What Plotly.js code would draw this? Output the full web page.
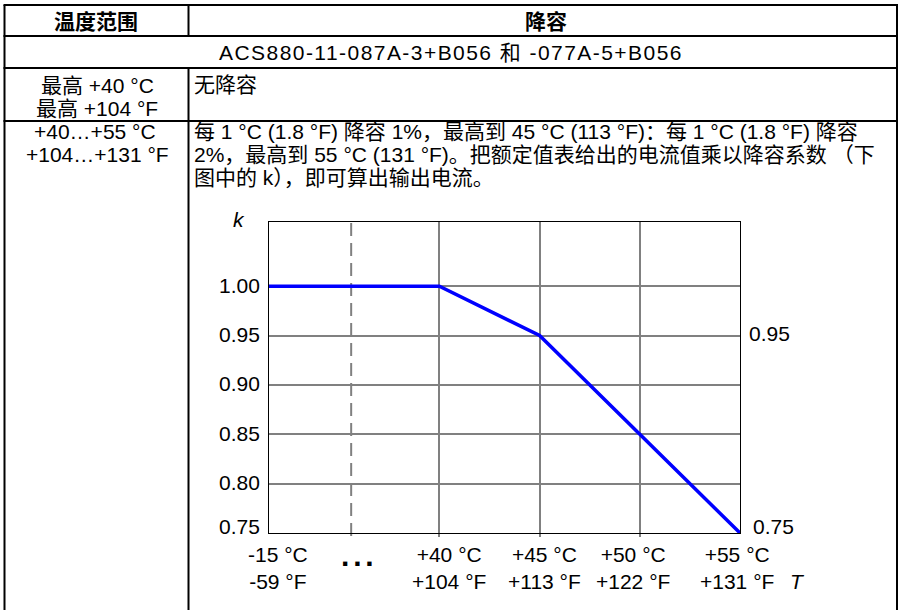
<!DOCTYPE html>
<html>
<head>
<meta charset="utf-8">
<script src="https://cdn.plot.ly/plotly-3.0.1.min.js"></script>
<style>html,body{margin:0;padding:0;background:#fff;overflow:hidden}</style>
</head>
<body>
<div id="chart" style="width:902px;height:610px"></div>
<script>
// ---------------- data ----------------
const tempC = [-15, 40, 45, 55];            // temperature points (°C)
const kValues = [1.00, 1.00, 0.95, 0.75];   // derating factor k
const xTickC = [-15, 40, 45, 50, 55];
const xTickLabelC = ['-15 °C', '+40 °C', '+45 °C', '+50 °C', '+55 °C'];
const xTickLabelF = ['-59 °F', '+104 °F', '+113 °F', '+122 °F', '+131 °F'];
const gridC = [40, 45, 50];
const yTickVals = [0.75, 0.80, 0.85, 0.90, 0.95, 1.00];
const yTickText = ['0.75', '0.80', '0.85', '0.90', '0.95', '1.00'];
const rightTickVals = [0.95, 0.75];
const rightTickText = ['0.95', '0.75'];

const headerCells = ['温度范围', '降容'];
const modelRow = 'ACS880-11-087A-3+B056 和 -077A-5+B056';
const row1Range = ['最高 +40 °C', '最高 +104 °F'];
const row1Text = '无降容';
const row2Range = ['+40…+55 °C', '+104…+131 °F'];
const row2Text = [
  '每 1 °C (1.8 °F) 降容 1%，最高到 45 °C (113 °F)：每 1 °C (1.8 °F) 降容',
  '2%，最高到 55 °C (131 °F)。把额定值表给出的电流值乘以降容系数 （下',
  '图中的 k），即可算出输出电流。'
];
const yAxisName = 'k';
const xAxisName = 'T';

// ---------------- layout helpers (styles/positions) ----------------
const W = 902, H = 610;
const px = x => x / W;
const py = y => 1 - y / H;
const FONT = 'Liberation Sans, Arial, Noto Sans CJK SC, sans-serif';
const FS = 21;
const BREAK_POS = 31.5;   // axis position where the broken (low temperature) part is shown
const DASH_POS = 35.6;    // axis break marker
const axisPos = t => (t < 40 ? BREAK_POS : t);
const LABEL_XSHIFT = [9, 10, 5, -7, -3];

const ann = [];
function txt(text, x, y, opts) {
  ann.push(Object.assign({
    text: text, x: px(x), y: py(y), xref: 'paper', yref: 'paper',
    showarrow: false, xanchor: 'center', yanchor: 'middle',
    font: {family: FONT, size: FS, color: '#000'}
  }, opts || {}));
}

// table texts
txt('<b>' + headerCells[0] + '</b>', 96, 21);
txt('<b>' + headerCells[1] + '</b>', 546, 21);
txt('<span style="letter-spacing:1.45px">' + modelRow + '</span>', 451, 52);
txt(row1Range[0], 97, 85);
txt(row1Range[1], 97, 108);
txt(row1Text, 192, 84, {xanchor: 'left'});
txt(row2Range[0], 95, 132);
txt(row2Range[1], 97, 155);
row2Text.forEach((t, i) => txt(t, 192, 132 + i * 23, {xanchor: 'left'}));

// chart texts
txt('<i>' + yAxisName + '</i>', 239, 220);
txt('<i>' + xAxisName + '</i>', 797, 581);
txt('<b><span style="letter-spacing:3.8px">...</span></b>', 359, 555, {font: {family: FONT, size: 30, color: '#000'}});

yTickVals.forEach((v, i) => ann.push({
  text: yTickText[i], x: px(262), y: v, xref: 'paper', yref: 'y',
  showarrow: false, xanchor: 'right', yanchor: 'middle',
  yshift: v === 0.75 ? 7 : 1,
  font: {family: FONT, size: FS, color: '#000'}
}));
rightTickVals.forEach((v, i) => ann.push({
  text: rightTickText[i], x: px(v === 0.75 ? 751 : 747), y: v, xref: 'paper', yref: 'y',
  showarrow: false, xanchor: 'left', yanchor: 'middle',
  yshift: v === 0.75 ? 7 : 2,
  font: {family: FONT, size: FS, color: '#000'}
}));
xTickC.forEach((t, i) => ann.push({
  text: xTickLabelC[i] + '<br>' + xTickLabelF[i], x: axisPos(t), y: py(568),
  xref: 'x', yref: 'paper', showarrow: false, xanchor: 'center', yanchor: 'middle',
  xshift: LABEL_XSHIFT[i],
  font: {family: FONT, size: FS, color: '#000'}
}));

// table lines
const shapes = [];
function ln(x0, y0, x1, y1) {
  shapes.push({type: 'line', xref: 'paper', yref: 'paper',
    x0: px(x0), y0: py(y0), x1: px(x1), y1: py(y1),
    line: {color: '#000', width: 2}});
}
ln(3.5, 5, 898, 5);
ln(4.5, 5, 4.5, 615);
ln(897, 5, 897, 615);
ln(3.5, 36, 898, 36);
ln(3.5, 68, 898, 68);
ln(3.5, 121, 898, 121);
ln(188.5, 5, 188.5, 36);
ln(188.5, 68, 188.5, 615);
// axis break dashed marker
shapes.push({type: 'line', xref: 'x', yref: 'paper', x0: DASH_POS, x1: DASH_POS,
  y0: py(536), y1: py(222), line: {color: '#808080', width: 2, dash: '13px,7px'}, layer: 'below'});

const trace = {
  x: tempC.map(axisPos), y: kValues, type: 'scatter', mode: 'lines',
  line: {color: '#0000ff', width: 3.5}, hoverinfo: 'skip', cliponaxis: false
};

const layout = {
  width: W, height: H,
  margin: {l: 0, r: 0, t: 0, b: 0},
  paper_bgcolor: '#fff', plot_bgcolor: '#fff',
  showlegend: false,
  xaxis: {
    domain: [269 / W, 740 / W], range: [BREAK_POS, 55],
    tickmode: 'array', tickvals: gridC, showticklabels: false,
    ticks: 'outside', ticklen: 3, tickwidth: 2, tickcolor: '#808080',
    showgrid: true, gridcolor: '#808080', gridwidth: 2,
    showline: true, mirror: true, linecolor: '#000', linewidth: 1,
    zeroline: false, fixedrange: true
  },
  yaxis: {
    domain: [1 - 533 / H, 1 - 222 / H], range: [0.75, 1.065],
    tickmode: 'array', tickvals: yTickVals.slice(1), showticklabels: false,
    ticks: '', showgrid: true, gridcolor: '#808080', gridwidth: 2,
    showline: true, mirror: true, linecolor: '#000', linewidth: 1,
    zeroline: false, fixedrange: true
  },
  annotations: ann,
  shapes: shapes
};

Plotly.newPlot('chart', [trace], layout, {staticPlot: true, displayModeBar: false});
</script>
</body>
</html>
